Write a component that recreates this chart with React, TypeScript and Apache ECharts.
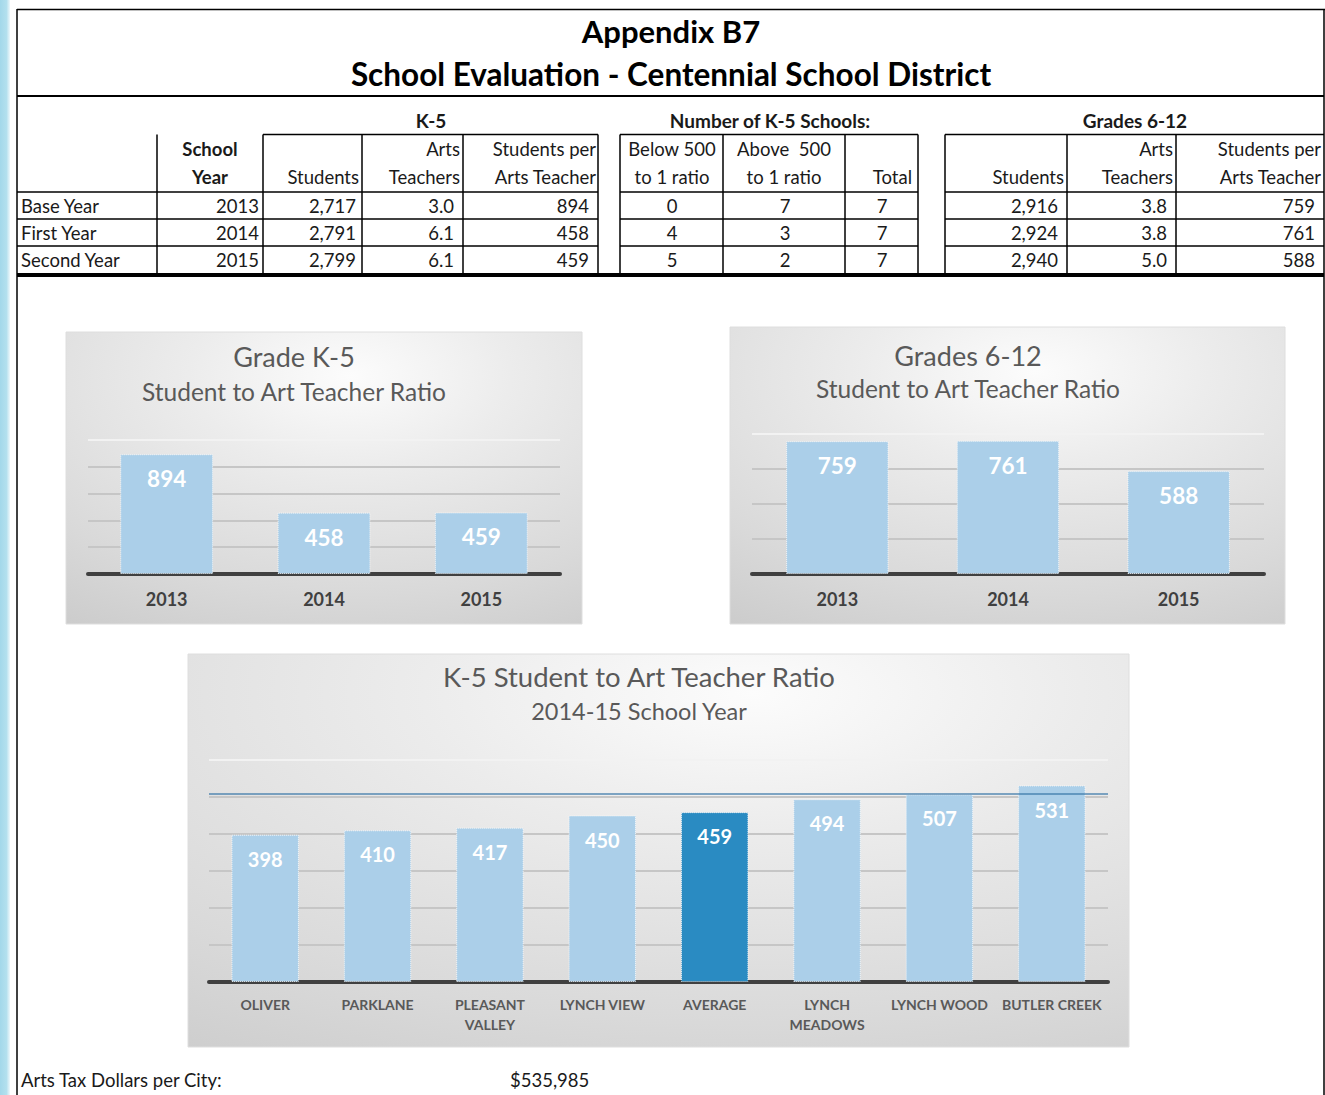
import React, { useEffect, useRef } from "react";
import * as echarts from "echarts";

// ---------- data ----------
const rowLabels = ["Base Year", "First Year", "Second Year"];
const schoolYears = ["2013", "2014", "2015"];
const k5Students = ["2,717", "2,791", "2,799"];
const k5ArtsTeachers = ["3.0", "6.1", "6.1"];
const k5Ratio = [894, 458, 459];
const below500 = ["0", "4", "5"];
const above500 = ["7", "3", "2"];
const totalSchools = ["7", "7", "7"];
const g612Students = ["2,916", "2,924", "2,940"];
const g612ArtsTeachers = ["3.8", "3.8", "5.0"];
const g612Ratio = [759, 761, 588];
const schools = [
  "OLIVER",
  "PARKLANE",
  "PLEASANT\nVALLEY",
  "LYNCH VIEW",
  "AVERAGE",
  "LYNCH\nMEADOWS",
  "LYNCH WOOD",
  "BUTLER CREEK",
];
const schoolRatios = [398, 410, 417, 450, 459, 494, 507, 531];
const trendValue = 510;
const artsTaxLabel = "Arts Tax Dollars per City:";
const artsTaxValue = "$535,985";

const FONT = "Lato";
const LIGHT = "#abcfe9";
const DARK = "#2a8bc2";
const TS = 18.5; // table font size

function txt(text: string, x: number, y: number, o: any = {}) {
  const align = o.align || "left";
  return {
    type: "text",
    z: 10,
    silent: true,
    style: {
      text,
      x,
      y,
      fill: o.color || "#1a1a1a",
      fontSize: o.size || TS,
      fontWeight: o.bold ? "bold" : "normal",
      fontFamily: FONT,
      align,
      textAlign: align,
      verticalAlign: "middle",
      textVerticalAlign: "middle",
    },
  };
}
function ln(x1: number, y1: number, x2: number, y2: number, w = 1.2, color = "#000") {
  return {
    type: "line",
    z: 10,
    silent: true,
    shape: { x1, y1, x2, y2 },
    style: { stroke: color, lineWidth: w },
  };
}
function box(x: number, y: number, width: number, height: number, cx: number, cy: number, r: number) {
  return {
    type: "rect",
    z: -10,
    silent: true,
    shape: { x, y, width, height },
    style: {
      fill: {
        type: "radial",
        x: cx,
        y: cy,
        r,
        colorStops: [
          { offset: 0, color: "#fcfcfc" },
          { offset: 0.25, color: "#ececec" },
          { offset: 0.6, color: "#d9d9d9" },
          { offset: 1, color: "#c0c0c0" },
        ],
      },
      stroke: "#dedede",
      lineWidth: 1,
    },
  };
}

function buildGraphic() {
  const g: any[] = [];
  // left blue strip
  g.push({
    type: "rect",
    z: -20,
    silent: true,
    shape: { x: 0, y: 0, width: 10, height: 1095 },
    style: {
      fill: {
        type: "linear",
        x: 0,
        y: 0,
        x2: 1,
        y2: 0,
        colorStops: [
          { offset: 0, color: "#a3d8ea" },
          { offset: 0.65, color: "#b3e0ee" },
          { offset: 1, color: "#eef8fb" },
        ],
      },
    },
  });
  // frame lines
  g.push(ln(17, 9.5, 1325, 9.5, 1.5));
  g.push(ln(17, 9, 17, 1095, 1.5));
  g.push(ln(1324, 9, 1324, 1095, 1.5));
  g.push(ln(17, 96, 1324, 96, 2));
  // titles
  g.push(txt("Appendix B7", 671, 31, { size: 31, bold: true, align: "center", color: "#000" }));
  g.push(
    txt("School Evaluation - Centennial School District", 671, 74, {
      size: 31.5,
      bold: true,
      align: "center",
      color: "#000",
    })
  );
  // group headers
  g.push(txt("K-5", 431, 120, { bold: true, size: 19, align: "center" }));
  g.push(txt("Number of K-5 Schools:", 770, 120, { bold: true, size: 19, align: "center" }));
  g.push(txt("Grades 6-12", 1135, 120, { bold: true, size: 19, align: "center" }));

  const groups = [
    [263, 598],
    [620, 918],
    [945, 1324],
  ];
  const vLines = [157, 263, 362, 463, 598, 620, 723, 845, 918, 945, 1067, 1176];
  const headTop = 134.5;
  const rowYs = [192, 219, 246];
  groups.forEach(([a, b]) => g.push(ln(a, headTop, b, headTop, 1.5)));
  rowYs.forEach((y) => {
    g.push(ln(17, y, 598, y, 1.5));
    g.push(ln(620, y, 918, y, 1.5));
    g.push(ln(945, y, 1324, y, 1.5));
  });
  vLines.forEach((x) => g.push(ln(x, headTop, x, 273, 1.5)));
  g.push(ln(17, 275, 1324, 275, 4));

  // column headers
  const h1 = 149;
  const h2 = 177;
  g.push(txt("School", 210, h1, { bold: true, align: "center" }));
  g.push(txt("Year", 210, h2, { bold: true, align: "center" }));
  g.push(txt("Students", 359, h2, { align: "right" }));
  g.push(txt("Arts", 460, h1, { align: "right" }));
  g.push(txt("Teachers", 460, h2, { align: "right" }));
  g.push(txt("Students per", 596, h1, { align: "right" }));
  g.push(txt("Arts Teacher", 596, h2, { align: "right" }));
  g.push(txt("Below 500", 672, h1, { align: "center" }));
  g.push(txt("to 1 ratio", 672, h2, { align: "center" }));
  g.push(txt("Above  500", 784, h1, { align: "center" }));
  g.push(txt("to 1 ratio", 784, h2, { align: "center" }));
  g.push(txt("Total", 912, h2, { align: "right" }));
  g.push(txt("Students", 1064, h2, { align: "right" }));
  g.push(txt("Arts", 1173, h1, { align: "right" }));
  g.push(txt("Teachers", 1173, h2, { align: "right" }));
  g.push(txt("Students per", 1321, h1, { align: "right" }));
  g.push(txt("Arts Teacher", 1321, h2, { align: "right" }));

  // data rows
  const dataYs = [205.5, 232.5, 259.5];
  rowLabels.forEach((lab, i) => {
    const y = dataYs[i];
    g.push(txt(lab, 21, y));
    g.push(txt(schoolYears[i], 259, y, { align: "right" }));
    g.push(txt(k5Students[i], 356, y, { align: "right" }));
    g.push(txt(k5ArtsTeachers[i], 454, y, { align: "right" }));
    g.push(txt(String(k5Ratio[i]), 589, y, { align: "right" }));
    g.push(txt(below500[i], 672, y, { align: "center" }));
    g.push(txt(above500[i], 785, y, { align: "center" }));
    g.push(txt(totalSchools[i], 882, y, { align: "center" }));
    g.push(txt(g612Students[i], 1058, y, { align: "right" }));
    g.push(txt(g612ArtsTeachers[i], 1167, y, { align: "right" }));
    g.push(txt(String(g612Ratio[i]), 1315, y, { align: "right" }));
  });

  // chart backgrounds
  g.push(box(66, 332, 516, 292, 0.55, 0.15, 1.25));
  g.push(box(730, 327, 555, 297, 0.55, 0.15, 1.25));
  g.push(box(188, 654, 941, 393, 0.6, 0.1, 1.4));

  // chart titles
  const tc = "#595959";
  g.push(txt("Grade K-5", 294, 356, { size: 27, align: "center", color: tc }));
  g.push(txt("Student to Art Teacher Ratio", 294, 391, { size: 24.5, align: "center", color: tc }));
  g.push(txt("Grades 6-12", 968, 355, { size: 27, align: "center", color: tc }));
  g.push(txt("Student to Art Teacher Ratio", 968, 388, { size: 24.5, align: "center", color: tc }));
  g.push(txt("K-5 Student to Art Teacher Ratio", 639, 676, { size: 27.5, align: "center", color: tc }));
  g.push(txt("2014-15 School Year", 639, 711, { size: 23.5, align: "center", color: tc }));

  // bottom line
  g.push(txt(artsTaxLabel, 21, 1080));
  g.push(txt(artsTaxValue, 510, 1080));
  return g;
}

function splitColors(n: number) {
  const c: string[] = [];
  for (let i = 0; i < n - 1; i++) c.push("#c6c6c6");
  c.push("#f2f2f2");
  return c;
}

function xAxisCfg(gridIndex: number, data: string[], size: number, color: string, margin: number) {
  return {
    gridIndex,
    type: "category",
    data,
    axisLine: { lineStyle: { color: "#404040", width: 4 } },
    axisTick: { show: false },
    axisLabel: {
      color,
      fontWeight: "bold",
      fontSize: size,
      fontFamily: FONT,
      margin,
      lineHeight: size + 6,
      interval: 0,
    },
  };
}
function yAxisCfg(gridIndex: number, max: number, interval: number) {
  return {
    gridIndex,
    type: "value",
    min: 0,
    max,
    interval,
    axisLabel: { show: false },
    axisLine: { show: false },
    axisTick: { show: false },
    splitLine: { lineStyle: { color: splitColors(max / interval + 1), width: 2 } },
  };
}
function barLabel(size: number, dist: number) {
  return {
    show: true,
    position: "insideTop",
    distance: dist,
    color: "#ffffff",
    fontWeight: "bold",
    fontSize: size,
    fontFamily: FONT,
  };
}
const barBorder = { borderColor: "rgba(255,255,255,0.75)", borderWidth: 1, borderType: "dotted" };

export default function App() {
  const ref = useRef<HTMLDivElement>(null);
  useEffect(() => {
    if (!ref.current) return;
    const chart = echarts.init(ref.current, null, { renderer: "svg" });
    const option: any = {
      animation: false,
      backgroundColor: "#ffffff",
      graphic: buildGraphic(),
      grid: [
        { left: 88, top: 440, width: 472, height: 134 },
        { left: 752, top: 434, width: 512, height: 140 },
        { left: 209, top: 760, width: 899, height: 222 },
      ],
      xAxis: [
        xAxisCfg(0, schoolYears, 18, "#404040", 13),
        xAxisCfg(1, schoolYears, 18, "#404040", 13),
        xAxisCfg(2, schools, 14, "#595959", 12),
      ],
      yAxis: [yAxisCfg(0, 1000, 200), yAxisCfg(1, 800, 200), yAxisCfg(2, 600, 100)],
      series: [
        {
          type: "bar",
          xAxisIndex: 0,
          yAxisIndex: 0,
          data: k5Ratio,
          barCategoryGap: "41%",
          itemStyle: { color: LIGHT, ...barBorder },
          label: barLabel(22.5, 13),
        },
        {
          type: "bar",
          xAxisIndex: 1,
          yAxisIndex: 1,
          data: g612Ratio,
          barCategoryGap: "40%",
          itemStyle: { color: LIGHT, ...barBorder },
          label: barLabel(22.5, 13),
        },
        {
          type: "bar",
          xAxisIndex: 2,
          yAxisIndex: 2,
          data: schoolRatios.map((v, i) => ({
            value: v,
            itemStyle: { color: schools[i] === "AVERAGE" ? DARK : LIGHT },
          })),
          barCategoryGap: "40%",
          itemStyle: { ...barBorder },
          label: barLabel(20, 14),
          markLine: {
            silent: true,
            symbol: "none",
            label: { show: false },
            lineStyle: { color: "#3b78a8", width: 1.5, type: "solid", opacity: 0.85 },
            data: [{ yAxis: trendValue }],
          },
        },
      ],
    };
    chart.setOption(option);
    return () => chart.dispose();
  }, []);
  return (
    <div
      ref={ref}
      style={{ position: "absolute", left: 0, top: 0, width: 1325, height: 1095, background: "#fff" }}
    />
  );
}
